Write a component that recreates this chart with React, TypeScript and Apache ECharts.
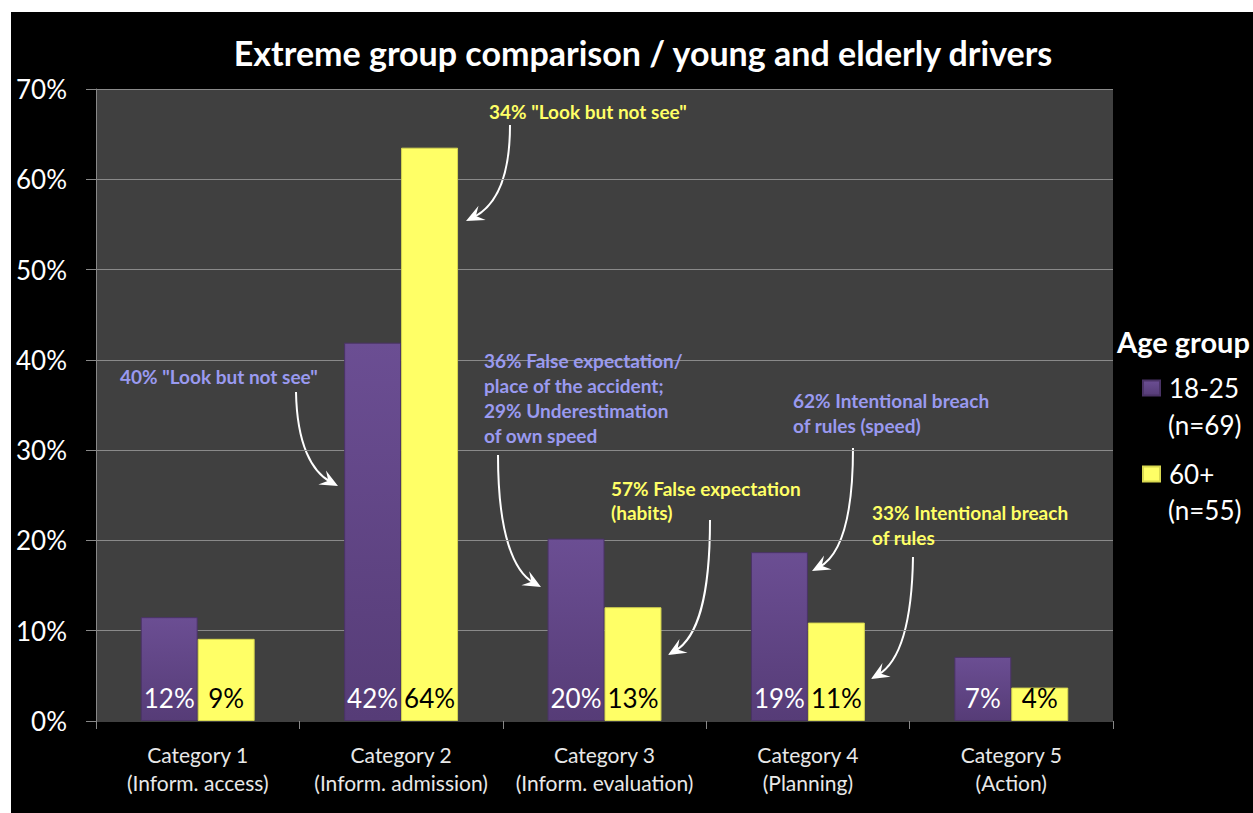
import React, { useEffect, useRef } from "react";
import * as echarts from "echarts";

const categories = [
  "Category 1\n(Inform. access)",
  "Category 2\n(Inform. admission)",
  "Category 3\n(Inform. evaluation)",
  "Category 4\n(Planning)",
  "Category 5\n(Action)",
];
const young = [11.5, 41.9, 20.2, 18.7, 7.1];
const elderly = [9.1, 63.5, 12.6, 10.9, 3.7];
const seriesNames = ["18-25", "60+"];
const seriesSizes = ["(n=69)", "(n=55)"];
const titleText = "Extreme group comparison / young and elderly drivers";
const legendTitle = "Age group";

const annotations = [
  { text: '40% "Look but not see"', color: "#9a9af0", x: 120, y: 364, lh: 25 },
  { text: '34% "Look but not see"', color: "#ffff66", x: 489, y: 99, lh: 25 },
  {
    text: "36% False expectation/\nplace of the accident;\n29% Underestimation\nof own speed",
    color: "#9a9af0", x: 484, y: 348, lh: 25,
  },
  { text: "57% False expectation\n(habits)", color: "#ffff66", x: 611, y: 476, lh: 24 },
  { text: "62% Intentional breach\nof rules (speed)", color: "#9a9af0", x: 793, y: 388, lh: 25 },
  { text: "33% Intentional breach\nof rules", color: "#ffff66", x: 872, y: 500, lh: 25 },
];

// page-space arrow paths: start, cp1, cp2, tip
const arrows = [
  [[296, 392], [297, 445], [312, 472], [338, 486]],
  [[510, 125], [510, 178], [496, 206], [466, 221]],
  [[498, 455], [498, 535], [514, 572], [541, 587]],
  [[710, 520], [710, 600], [697, 638], [668, 655]],
  [[853, 448], [853, 520], [840, 556], [812, 571]],
  [[913, 557], [912, 622], [900, 662], [871, 679]],
];

const OX = 11;
const OY = 12;

function buildArrow(a: number[][]) {
  const [p0, c1, c2, t] = a.map((p) => [p[0] - OX, p[1] - OY]);
  let dx = t[0] - c2[0];
  let dy = t[1] - c2[1];
  const len = Math.hypot(dx, dy) || 1;
  dx /= len;
  dy /= len;
  const nx = -dy;
  const ny = dx;
  const L = 18, W = 8, N = 11;
  const end = [t[0] - dx * 8, t[1] - dy * 8];
  return [
    {
      type: "bezierCurve",
      silent: true,
      shape: {
        x1: p0[0], y1: p0[1], x2: end[0], y2: end[1],
        cpx1: c1[0], cpy1: c1[1], cpx2: c2[0], cpy2: c2[1],
      },
      style: { stroke: "#ffffff", lineWidth: 2, fill: null },
    },
    {
      type: "polygon",
      silent: true,
      shape: {
        points: [
          [t[0], t[1]],
          [t[0] - dx * L + nx * W, t[1] - dy * L + ny * W],
          [t[0] - dx * N, t[1] - dy * N],
          [t[0] - dx * L - nx * W, t[1] - dy * L - ny * W],
        ],
      },
      style: { fill: "#ffffff" },
    },
  ];
}

export default function App() {
  const ref = useRef<HTMLDivElement>(null);
  useEffect(() => {
    if (!ref.current) return;
    const chart = echarts.init(ref.current, null, { renderer: "svg" });
    const font = "Lato, 'Noto Sans', sans-serif";
    const graphics: any[] = [];
    annotations.forEach((a) => {
      graphics.push({
        type: "text",
        silent: true,
        x: a.x - OX,
        y: a.y - OY,
        z: 10,
        style: {
          text: a.text,
          fill: a.color,
          font: `bold 19px ${font}`,
          lineHeight: a.lh,
          verticalAlign: "top",
          align: "left",
        },
      });
    });
    arrows.forEach((a) => graphics.push(...buildArrow(a)));
    // sample sizes under legend entries
    [425, 510].forEach((py, i) => {
      graphics.push({
        type: "text",
        silent: true,
        x: 1168 - OX,
        y: py - OY,
        style: {
          text: seriesSizes[i],
          fill: "#ffffff",
          font: `26px ${font}`,
          verticalAlign: "middle",
          align: "left",
        },
      });
    });

    chart.setOption({
      animation: false,
      backgroundColor: "#000000",
      textStyle: { fontFamily: font },
      title: [
        {
          text: titleText,
          left: 627,
          top: 18,
          textAlign: "center",
          textStyle: { color: "#ffffff", fontSize: 34, fontWeight: "bold", fontFamily: font },
        },
        {
          text: legendTitle,
          left: 1106,
          top: 315,
          padding: 0,
          textStyle: { color: "#ffffff", fontSize: 29, fontWeight: "bold", fontFamily: font },
        },
      ],
      legend: {
        orient: "vertical",
        left: 1131,
        top: 361,
        padding: 0,
        itemWidth: 17,
        itemHeight: 15,
        itemGap: 56,
        icon: "rect",
        data: seriesNames,
        textStyle: {
          color: "#ffffff",
          fontSize: 26,
          lineHeight: 30,
          padding: [0, 0, 0, 4],
          fontFamily: font,
        },
      },
      grid: {
        left: 85,
        top: 77,
        right: 140,
        bottom: 92,
        show: true,
        backgroundColor: "#404040",
        borderWidth: 0,
      },
      xAxis: {
        type: "category",
        data: categories,
        axisLine: { show: true, lineStyle: { color: "#404040", width: 1 } },
        axisTick: { show: true, length: 8, lineStyle: { color: "#888888" } },
        axisLabel: {
          interval: 0,
          color: "#e8e8e8",
          fontSize: 21,
          lineHeight: 28,
          margin: 19,
          fontFamily: font,
        },
      },
      yAxis: {
        type: "value",
        min: 0,
        max: 70,
        interval: 10,
        axisLine: { show: true, lineStyle: { color: "#888888", width: 1 } },
        axisTick: { show: true, length: 10, lineStyle: { color: "#888888" } },
        splitLine: { show: true, lineStyle: { color: "#8a8a8a", width: 1 } },
        axisLabel: {
          color: "#ffffff",
          fontSize: 26,
          margin: 29,
          formatter: "{value}%",
          fontFamily: font,
        },
      },
      series: [
        {
          name: seriesNames[0],
          type: "bar",
          data: young,
          barGap: "0%",
          barCategoryGap: "44%",
          itemStyle: {
            color: new echarts.graphic.LinearGradient(0, 0, 0, 1, [
              { offset: 0, color: "#6b4e93" },
              { offset: 1, color: "#563c77" },
            ]),
            borderColor: "#4a3366",
            borderWidth: 1,
          },
          label: {
            show: true,
            position: "insideBottom",
            distance: 10,
            color: "#ffffff",
            fontSize: 26,
            fontFamily: font,
            formatter: (p: any) => `${Math.round(p.value)}%`,
          },
        },
        {
          name: seriesNames[1],
          type: "bar",
          data: elderly,
          barGap: "0%",
          barCategoryGap: "44%",
          itemStyle: {
            color: "#ffff66",
            borderColor: "#d8d850",
            borderWidth: 1,
          },
          label: {
            show: true,
            position: "insideBottom",
            distance: 10,
            color: "#000000",
            fontSize: 26,
            fontFamily: font,
            formatter: (p: any) => `${Math.round(p.value)}%`,
          },
        },
      ],
      graphic: graphics,
    });
    return () => chart.dispose();
  }, []);

  return (
    <div style={{ position: "fixed", left: 0, top: 0, width: 1253, height: 813, background: "#ffffff" }}>
      <div
        ref={ref}
        style={{ position: "absolute", left: OX, top: OY, width: 1253 - OX, height: 813 - OY }}
      />
    </div>
  );
}
